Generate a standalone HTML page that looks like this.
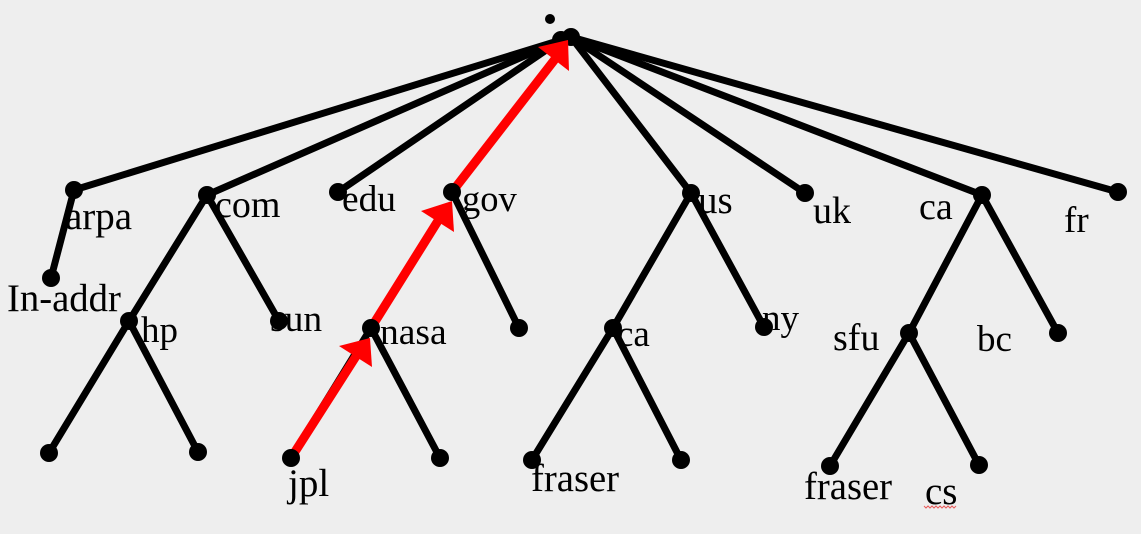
<!DOCTYPE html>
<html lang="en">
<head>
<meta charset="utf-8">
<title>DNS name tree</title>
<style>
html,body{margin:0;padding:0;background:#eeeeee;width:1141px;height:534px;overflow:hidden}
svg{display:block}
.e{stroke:#000;stroke-width:7;stroke-linecap:round;fill:none}
.r{stroke:#ff0000;stroke-width:9;fill:none}
.h{fill:#ff0000}
circle{fill:#000}
text{font-family:"Liberation Serif",serif;font-size:38px;fill:#000}
</style>
</head>
<body>
<svg width="1141" height="534" viewBox="0 0 1141 534">
<rect width="1141" height="534" fill="#eeeeee"/>
<g>
<line class="e" x1="561" y1="40" x2="74" y2="190"/>
<line class="e" x1="561" y1="40" x2="207" y2="195"/>
<line class="e" x1="561" y1="40" x2="338" y2="192"/>
<line class="e" x1="571" y1="37" x2="691" y2="193"/>
<line class="e" x1="571" y1="37" x2="805" y2="193"/>
<line class="e" x1="571" y1="37" x2="982" y2="195"/>
<line class="e" x1="571" y1="37" x2="1118" y2="192"/>
<line class="e" x1="74" y1="190" x2="51" y2="278"/>
<line class="e" x1="207" y1="195" x2="129" y2="321"/>
<line class="e" x1="207" y1="195" x2="279" y2="321"/>
<line class="e" x1="129" y1="321" x2="49" y2="453"/>
<line class="e" x1="129" y1="321" x2="198" y2="452"/>
<line class="e" x1="452" y1="192" x2="519" y2="328"/>
<line class="e" x1="371" y1="328" x2="440" y2="458"/>
<line class="e" x1="371" y1="328" x2="291" y2="458"/>
<line class="e" x1="691" y1="193" x2="613" y2="328"/>
<line class="e" x1="691" y1="193" x2="764" y2="327"/>
<line class="e" x1="613" y1="328" x2="532" y2="460"/>
<line class="e" x1="613" y1="328" x2="681" y2="460"/>
<line class="e" x1="982" y1="195" x2="909" y2="333"/>
<line class="e" x1="982" y1="195" x2="1058" y2="333"/>
<line class="e" x1="909" y1="333" x2="830" y2="466"/>
<line class="e" x1="909" y1="333" x2="979" y2="465"/>
</g>
<g>
<line class="r" x1="291" y1="458" x2="360" y2="350"/>
<line class="r" x1="371" y1="328" x2="441" y2="216"/>
<line class="r" x1="452" y1="192" x2="559" y2="54"/>
</g>
<g>
<circle cx="550" cy="19" r="5"/>
<circle cx="561" cy="40" r="9"/>
<circle cx="571" cy="37" r="9"/>
<circle cx="74" cy="190" r="9"/>
<circle cx="207" cy="195" r="9"/>
<circle cx="338" cy="192" r="9"/>
<circle cx="452" cy="192" r="9"/>
<circle cx="691" cy="193" r="9"/>
<circle cx="805" cy="193" r="9"/>
<circle cx="982" cy="195" r="9"/>
<circle cx="1118" cy="192" r="9"/>
<circle cx="51" cy="278" r="9"/>
<circle cx="129" cy="321" r="9"/>
<circle cx="279" cy="321" r="9"/>
<circle cx="371" cy="328" r="9"/>
<circle cx="519" cy="328" r="9"/>
<circle cx="613" cy="328" r="9"/>
<circle cx="764" cy="327" r="9"/>
<circle cx="909" cy="333" r="9"/>
<circle cx="1058" cy="333" r="9"/>
<circle cx="49" cy="453" r="9"/>
<circle cx="198" cy="452" r="9"/>
<circle cx="291" cy="458" r="9"/>
<circle cx="440" cy="458" r="9"/>
<circle cx="532" cy="460" r="9"/>
<circle cx="681" cy="460" r="9"/>
<circle cx="830" cy="466" r="9"/>
<circle cx="979" cy="465" r="9"/>
</g>
<g>
<polygon class="h" points="370,338 339,346 372,367"/>
<polygon class="h" points="452,201 421,211 454,232"/>
<polygon class="h" points="568,40 538,47 569,71"/>
</g>
<g>
<text x="65" y="229" font-size="39" style="font-size:39px">arpa</text>
<text x="215" y="217">com</text>
<text x="342" y="211" style="font-size:37.4px">edu</text>
<text x="462" y="211" style="font-size:36.5px">gov</text>
<text x="698" y="213" style="font-size:39px">us</text>
<text x="813" y="223">uk</text>
<text x="919" y="219">ca</text>
<text x="1064" y="232" style="font-size:37px">fr</text>
<text x="7" y="311" style="font-size:38.7px">In-addr</text>
<text x="141" y="342" style="font-size:37px">hp</text>
<text x="270" y="331" style="font-size:37.5px">sun</text>
<text x="380" y="344" style="font-size:37.5px">nasa</text>
<text x="617" y="346" style="font-size:37px">ca</text>
<text x="762" y="330" style="font-size:37px">ny</text>
<text x="833" y="350">sfu</text>
<text x="977" y="351" style="font-size:37px">bc</text>
<text x="288" y="496" style="font-size:39px">jpl</text>
<text x="531" y="491" style="font-size:38.7px">fraser</text>
<text x="804" y="499" style="font-size:38.7px">fraser</text>
<text x="925" y="504" style="font-size:39px">cs</text>
</g>
<polyline points="924,506 926,508 928,506 930,508 932,506 934,508 936,506 938,508 940,506 942,508 944,506 946,508 948,506 950,508 952,506 954,508 956,506" fill="none" stroke="#e85a5a" stroke-width="1"/>
</svg>
</body>
</html>
